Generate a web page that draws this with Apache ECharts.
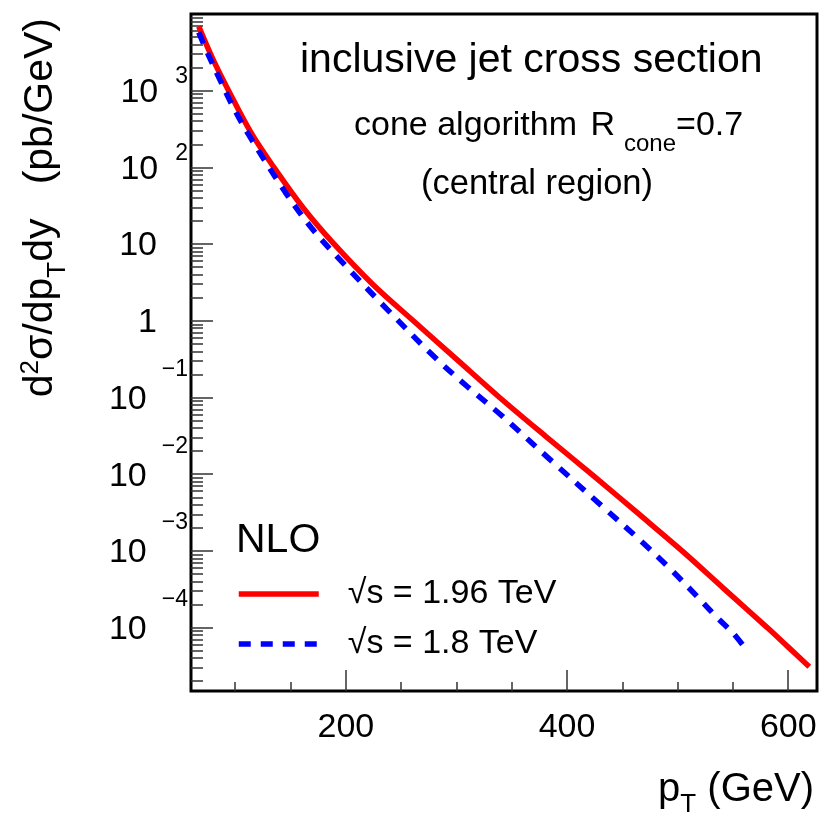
<!DOCTYPE html>
<html>
<head>
<meta charset="utf-8">
<title>inclusive jet cross section</title>
<script src="https://cdn.jsdelivr.net/npm/echarts@6/dist/echarts.min.js"></script>
<style>
html, body { margin: 0; padding: 0; background: #fff; }
#chart { width: 824px; height: 817px; }
</style>
</head>
<body>
<div id="chart"></div>
<script>
// NLO curves: pT (GeV) and d2sigma/dpT dy (pb/GeV)
var ptRed   = [67, 80, 94, 114, 135, 161, 188, 224, 261, 300, 339, 381, 424, 464, 504, 542, 581, 600, 619];
var xsecRed = [6900, 2540, 1000, 288, 100, 30.2, 10.5, 3.02, 1.0, 0.316, 0.10, 0.0309, 0.0095, 3.1e-3, 1.0e-3, 3.2e-4, 1.0e-4, 5.56e-5, 3.09e-5];

var ptBlue   = [67, 76, 85, 98, 112, 145, 169, 195, 238, 280, 310, 342, 387, 432, 466, 493, 520, 535, 550, 559];
var xsecBlue = [5750, 2870, 1510, 617, 269, 48, 16.2, 6.17, 1.38, 0.339, 0.138, 0.0562, 0.01445, 3.8e-3, 1.38e-3, 5.9e-4, 2.34e-4, 1.38e-4, 8.5e-5, 5.9e-5];

var seriesNames = ['\u221As = 1.96 TeV', '\u221As = 1.8 TeV'];

// axis ranges and tick labels
var xMin = 60, xMax = 626;
var xMajor = [200, 400, 600];
var xMinor = [100, 150, 250, 300, 350, 450, 500, 550];
var yMin = 1.49e-5, yMax = 1e4;
var yDecades = [-4, -3, -2, -1, 0, 1, 2, 3];

var FONT = '"Liberation Sans", Arial, Helvetica, sans-serif';

function pairs(xs, ys) {
	var out = [];
	for (var i = 0; i < xs.length; i++) out.push([xs[i], ys[i]]);
	return out;
}

// minor log ticks at 2..9 x 10^n, in log10 space
var yMinor = [];
for (var n = -5; n <= 3; n++) {
	for (var k = 2; k <= 9; k++) {
		var v = Math.log10(k) + n;
		if (v > Math.log10(yMin) && v < 4) yMinor.push(v);
	}
}

function decadeLabel(v) {
	v = Math.round(v);
	if (v === 0) return '{s|1}';
	if (v === 1) return '{s|10}';
	if (v < 0) return '{b|10}{n|\u2212' + (-v) + '}';
	return '{b|10}{p|' + v + '}';
}

var tickStyle = { color: '#333', width: 1.5 };
var lgMin = Math.log10(yMin), lgMax = Math.log10(yMax);

var chart = echarts.init(document.getElementById('chart'), null, { renderer: 'canvas' });

var option = {
	animation: false,
	backgroundColor: '#fff',
	textStyle: { fontFamily: FONT },
	grid: {
		left: 191, right: 7, top: 14, bottom: 126,
		show: true, borderColor: '#000', borderWidth: 3, backgroundColor: 'transparent'
	},
	xAxis: [{
		type: 'value', position: 'bottom', min: xMin, max: xMax,
		axisLine: { show: false, onZero: false }, splitLine: { show: false },
		axisTick: { inside: true, length: 21, customValues: xMajor, lineStyle: tickStyle },
		axisLabel: { customValues: xMajor, fontSize: 34, margin: 20, color: '#000', fontFamily: FONT }
	}, {
		type: 'value', position: 'bottom', min: xMin, max: xMax,
		axisLine: { show: false, onZero: false }, splitLine: { show: false },
		axisTick: { inside: true, length: 9, customValues: xMinor, lineStyle: tickStyle },
		axisLabel: { show: false }
	}],
	yAxis: [{
		// the curves live on this one
		type: 'log', logBase: 10, position: 'left', min: yMin, max: yMax,
		axisLine: { show: false, onZero: false }, axisTick: { show: false },
		axisLabel: { show: false }, splitLine: { show: false }
	}, {
		type: 'value', position: 'left', min: lgMin, max: lgMax,
		axisLine: { show: false, onZero: false }, splitLine: { show: false },
		axisTick: { inside: true, length: 22, customValues: yDecades, lineStyle: tickStyle },
		axisLabel: {
			customValues: yDecades, margin: 3, color: '#000',
			formatter: decadeLabel,
			rich: {
				s: { fontSize: 34, fontFamily: FONT, color: '#000', verticalAlign: 'middle', padding: [4, 31, 0, 0] },
				b: { fontSize: 34, fontFamily: FONT, color: '#000', verticalAlign: 'middle', padding: [4, 0, 0, 0] },
				p: { fontSize: 23, fontFamily: FONT, color: '#000', verticalAlign: 'middle', padding: [0, 0, 28, 17] },
				n: { fontSize: 23, fontFamily: FONT, color: '#000', verticalAlign: 'middle', padding: [0, 0, 56, 15] }
			}
		}
	}, {
		type: 'value', position: 'left', min: lgMin, max: lgMax,
		axisLine: { show: false, onZero: false }, splitLine: { show: false },
		axisTick: { inside: true, length: 12, customValues: yMinor, lineStyle: tickStyle },
		axisLabel: { show: false }
	}],
	legend: {
		orient: 'vertical', left: 236, top: 577, padding: 0,
		itemWidth: 80, itemHeight: 34, itemGap: 16,
		selectedMode: false,
		data: seriesNames,
		itemStyle: { opacity: 0 },
		lineStyle: { width: 5.5 },
		textStyle: { fontSize: 34, fontFamily: FONT, color: '#000', lineHeight: 34, padding: [0, 0, 0, 24] }
	},
	series: [{
		name: seriesNames[0], type: 'line', xAxisIndex: 0, yAxisIndex: 0,
		data: pairs(ptRed, xsecRed),
		symbol: 'none', smooth: 0.35, z: 2,
		color: '#ff0000',
		lineStyle: { color: '#ff0000', width: 5.5 }
	}, {
		name: seriesNames[1], type: 'line', xAxisIndex: 0, yAxisIndex: 0,
		data: pairs(ptBlue, xsecBlue),
		symbol: 'none', smooth: 0.35, z: 3,
		color: '#0000ff',
		lineStyle: { color: '#0000ff', width: 5.5, type: [12, 10], cap: 'butt' }
	}],
	graphic: [{
		type: 'text', x: 300, y: 61,
		style: { text: 'inclusive jet cross section', fontSize: 41, fontFamily: FONT, fill: '#000', align: 'left', verticalAlign: 'middle' }
	}, {
		type: 'text', x: 354, y: 126,
		style: {
			text: '{a|cone algorithm }{r|R}{b|cone}{a|=0.7}', align: 'left', verticalAlign: 'middle',
			rich: {
				a: { fontSize: 34, fontFamily: FONT, fill: '#000', verticalAlign: 'middle' },
				r: { fontSize: 34, fontFamily: FONT, fill: '#000', verticalAlign: 'middle', padding: [0, 0, 0, 4] },
				b: { fontSize: 24, fontFamily: FONT, fill: '#000', verticalAlign: 'middle', padding: [37, 0, 0, 9] }
			}
		}
	}, {
		type: 'text', x: 421, y: 184,
		style: { text: '(central region)', fontSize: 34.5, fontFamily: FONT, fill: '#000', align: 'left', verticalAlign: 'middle' }
	}, {
		type: 'text', x: 236, y: 541,
		style: { text: 'NLO', fontSize: 41, fontFamily: FONT, fill: '#000', align: 'left', verticalAlign: 'middle' }
	}, {
		// y axis title, reads bottom to top
		type: 'text', x: 41, y: 18, rotation: Math.PI / 2,
		style: {
			text: '{a|d}{p|2}{a|\u03C3/dp}{b|T}{a|dy   (pb/GeV)}', align: 'right', verticalAlign: 'middle',
			rich: {
				a: { fontSize: 41, fontFamily: FONT, fill: '#000', verticalAlign: 'middle' },
				p: { fontSize: 26, fontFamily: FONT, fill: '#000', verticalAlign: 'middle', padding: [0, 0, 21, 0] },
				b: { fontSize: 26, fontFamily: FONT, fill: '#000', verticalAlign: 'middle', padding: [34, 0, 0, 0] }
			}
		}
	}, {
		type: 'text', x: 814, y: 790,
		style: {
			text: '{a|p}{b|T}{a| (GeV)}', align: 'right', verticalAlign: 'middle',
			rich: {
				a: { fontSize: 40, fontFamily: FONT, fill: '#000', verticalAlign: 'middle' },
				b: { fontSize: 26, fontFamily: FONT, fill: '#000', verticalAlign: 'middle', padding: [30, 0, 0, 0] }
			}
		}
	}]
};

chart.setOption(option);
</script>
</body>
</html>
